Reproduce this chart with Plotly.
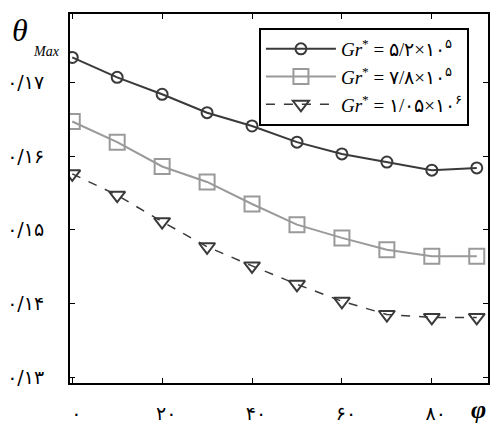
import plotly.graph_objects as go

phi = [0, 10, 20, 30, 40, 50, 60, 70, 80, 90]
theta_1 = [0.1734, 0.1707, 0.1684, 0.1659, 0.1641, 0.1619, 0.1603, 0.1592, 0.1581, 0.1584]
theta_2 = [0.1647, 0.1619, 0.1586, 0.1565, 0.1535, 0.1507, 0.1489, 0.1473, 0.1464, 0.1464]
theta_3 = [0.1576, 0.1547, 0.1511, 0.1477, 0.1451, 0.1426, 0.1403, 0.1385, 0.1381, 0.1381]
names = ["<i>Gr</i><sup>*</sup> = ۵/۲×۱۰<sup>۵</sup>",
         "<i>Gr</i><sup>*</sup> = ۷/۸×۱۰<sup>۵</sup>",
         "<i>Gr</i><sup>*</sup> = ۱/۰۵×۱۰<sup>۶</sup>"]
x_ticks = [0, 20, 40, 60, 80]
x_labels = ["۰", "۲۰", "۴۰", "۶۰", "۸۰"]
y_ticks = [0.13, 0.14, 0.15, 0.16, 0.17]
y_labels = ["۰/۱۳", "۰/۱۴", "۰/۱۵", "۰/۱۶", "۰/۱۷"]

fig = go.Figure()
fig.add_trace(go.Scatter(x=phi, y=theta_1, name=names[0], mode="lines+markers",
                         line=dict(color="#3a3a3a", width=2),
                         marker=dict(symbol="circle-open", size=11, color="#3a3a3a", line=dict(width=2))))
fig.add_trace(go.Scatter(x=phi, y=theta_2, name=names[1], mode="lines+markers",
                         line=dict(color="#9a9a9a", width=2),
                         marker=dict(symbol="square-open", size=15, color="#9a9a9a", line=dict(width=2))))
fig.add_trace(go.Scatter(x=phi, y=theta_3, name=names[2], mode="lines+markers",
                         line=dict(color="#3a3a3a", width=1.5, dash="dash"),
                         marker=dict(symbol="triangle-down-open", size=14, color="#3a3a3a", line=dict(width=2))))

fig.update_xaxes(range=[-0.5, 92.5], tickvals=x_ticks, ticktext=x_labels, automargin=False,
                 ticks="inside", ticklen=5, tickcolor="black", mirror="ticks",
                 showline=True, linecolor="black", linewidth=2, showgrid=False, zeroline=False,
                 tickfont=dict(size=19), ticklabelstandoff=12, ticklabelshift=4)
fig.update_yaxes(range=[0.1292, 0.1793], tickvals=y_ticks, ticktext=y_labels, automargin=False,
                 ticks="inside", ticklen=5, tickcolor="black", mirror="ticks",
                 showline=True, linecolor="black", linewidth=2, showgrid=False, zeroline=False,
                 tickfont=dict(size=19), ticklabelstandoff=20)

# axis names drawn as annotations, like the original figure
fig.add_annotation(x=0, y=1, xref="paper", yref="paper", xshift=-50, yshift=-16, xanchor="center", yanchor="middle",
                   text="<i>θ</i>", showarrow=False, font=dict(family="Liberation Serif", size=32, color="black"))
fig.add_annotation(x=0, y=1, xref="paper", yref="paper", xshift=-24, yshift=-37, xanchor="center", yanchor="middle",
                   text="<i>Max</i>", showarrow=False, font=dict(family="Liberation Serif", size=14, color="black"))
fig.add_annotation(x=1, y=0, xref="paper", yref="paper", xshift=-10, yshift=-26, xanchor="center", yanchor="middle",
                   text="<b><i>φ</i></b>", showarrow=False, font=dict(family="Liberation Serif", size=26, color="black"))

fig.update_layout(width=492, height=423, margin=dict(l=70, r=4, t=14, b=40),
                  paper_bgcolor="white", plot_bgcolor="white",
                  font=dict(family="DejaVu Sans", size=15, color="black"),
                  legend=dict(x=0.452, y=0.962, xanchor="left", yanchor="top",
                              bordercolor="black", borderwidth=2, bgcolor="white",
                              itemwidth=70, tracegroupgap=0,
                              font=dict(family="Liberation Serif", size=19)))

fig.write_html("out.html", config={"displayModeBar": False},
               post_script="document.body.style.margin='0';")
